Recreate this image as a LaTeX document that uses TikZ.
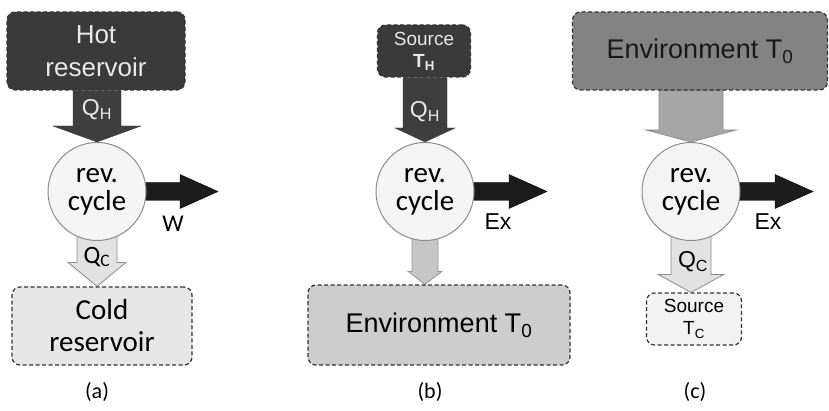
\documentclass[tikz,border=0pt]{standalone}
\usepackage{fontspec}
\setmainfont{Liberation Sans}
\newfontfamily\calibri{Carlito}
\usepackage{tikz}
\usetikzlibrary{positioning,calc,backgrounds}

\definecolor{hotgray}{HTML}{3A3A3A}
\definecolor{flowgray}{HTML}{3E3E3E}
\definecolor{workgray}{HTML}{1C1C1C}
\definecolor{ringgray}{HTML}{8C8C8C}
\definecolor{cyclefill}{HTML}{F4F4F4}
\definecolor{coldgray}{HTML}{E6E6E6}
\definecolor{paleflow}{HTML}{E2E2E2}
\definecolor{envlight}{HTML}{CDCDCD}
\definecolor{envflow}{HTML}{C6C6C6}
\definecolor{envdark}{HTML}{838383}
\definecolor{envdarkflow}{HTML}{A6A6A6}
\definecolor{sourcepale}{HTML}{F2F2F2}
\definecolor{lighttext}{HTML}{E8E8E8}

\newcommand{\flowdown}[6]{%
  \draw[#1] let \p1=(#2), \p2=(#3) in
    (\x1-#4,\y1) -- (\x1-#4,\y2+#6) -- (\x1-#5,\y2+#6) -- (\x1,\y2)
    -- (\x1+#5,\y2+#6) -- (\x1+#4,\y2+#6) -- (\x1+#4,\y1) -- cycle;}
\newcommand{\flowright}[6]{%
  \draw[#1] let \p1=(#2), \p2=(#3) in
    (\x1,\y1-#4) -- (\x2-#6,\y1-#4) -- (\x2-#6,\y1-#5) -- (\x2,\y1)
    -- (\x2-#6,\y1+#5) -- (\x2-#6,\y1+#4) -- (\x1,\y1+#4) -- cycle;}

\tikzset{
  reservoir/.style={draw=black!80, line width=1.2pt, dash pattern=on 4pt off 2.5pt,
    rounded corners=8pt, align=center, inner sep=0pt},
  revcycle/.style={circle, draw=ringgray, line width=1pt, fill=cyclefill, minimum size=98pt,
    inner sep=0pt, align=center, font=\calibri\fontsize{29}{28}\selectfont},
  bigtext/.style={font=\fontsize{26}{33}\selectfont},
  smalltext/.style={font=\fontsize{19}{22}\selectfont},
  flowtext/.style={font=\fontsize{23}{26}\selectfont},
  caption/.style={font=\calibri\fontsize{22}{26}\selectfont},
  workflow/.style={fill=workgray},
}

\begin{document}
\begin{tikzpicture}[x=1pt,y=1pt]
    \useasboundingbox (0,0) rectangle (829,410);

    \node [reservoir, fill=hotgray, minimum width=178pt, minimum height=78pt, bigtext, text=lighttext] (hotA) at (96,359) {Hot\\reservoir};
    \node [revcycle] (cycA) at (97,218.5) {rev.\\cycle};
    \node [reservoir, fill=coldgray, minimum width=180pt, minimum height=78pt, font=\calibri\fontsize{29}{32}\selectfont] (coldA) at (102,84) {Cold\\reservoir};
    \coordinate (tipA) at (218,219);

    \node [reservoir, fill=hotgray, minimum width=93pt, minimum height=52pt, smalltext, text=lighttext] (srcB) at (424,359) {Source\\\textbf{T\textsubscript{H}}};
    \node [revcycle] (cycB) at (425,218.5) {rev.\\cycle};
    \node [reservoir, fill=envlight, minimum width=262pt, minimum height=80pt, font=\fontsize{27}{30}\selectfont] (envB) at (439,85) {Environment T\textsubscript{0}};
    \coordinate (tipB) at (547,219);

    \node [reservoir, fill=envdark, minimum width=255pt, minimum height=78pt, font=\fontsize{27}{30}\selectfont, text=black!90] (envC) at (700,359) {Environment T\textsubscript{0}};
    \node [revcycle] (cycC) at (691,218.5) {rev.\\cycle};
    \node [reservoir, fill=sourcepale, minimum width=95pt, minimum height=52pt, smalltext] (srcC) at (694,91) {Source\\T\textsubscript{C}};
    \coordinate (tipC) at (813,219);

    \begin{pgfonlayer}{background}
        \flowdown{fill=flowgray, draw=flowgray}{hotA.south -| cycA}{cycA.north}{24pt}{44pt}{16pt}
        \flowright{workflow}{cycA.center}{tipA}{9pt}{17pt}{38pt}
        \flowdown{fill=paleflow, draw=ringgray, line width=0.8pt}{cycA.center}{coldA.north -| cycA}{20pt}{29pt}{24pt}

        \flowdown{fill=flowgray, draw=flowgray}{srcB.south -| cycB}{cycB.north}{22pt}{30pt}{14pt}
        \flowright{workflow}{cycB.center}{tipB}{9pt}{17pt}{38pt}
        \flowdown{fill=envflow, draw=ringgray!90, line width=0.8pt}{cycB.center}{envB.north -| cycB}{13pt}{17pt}{13pt}

        \flowdown{fill=envdarkflow, draw=envdarkflow!85!black, line width=0.8pt}{envC.south -| cycC}{cycC.north}{32pt}{45pt}{12pt}
        \flowright{workflow}{cycC.center}{tipC}{9pt}{17pt}{38pt}
        \flowdown{fill=paleflow, draw=ringgray, line width=0.8pt}{cycC.center}{srcC.north -| cycC}{20pt}{33pt}{18pt}
    \end{pgfonlayer}

    \node [flowtext, text=lighttext] (qhA) at (97,300) {Q\textsubscript{H}};
    \node [font=\calibri\fontsize{25}{28}\selectfont] (qcA) at (97,153) {Q\textsubscript{C}};
    \node [font=\calibri\fontsize{24}{28}\selectfont] (wA) at (173,186) {W};
    \node [caption] (capA) at (97,18) {(a)};

    \node [flowtext, text=lighttext] (qhB) at (425,298) {Q\textsubscript{H}};
    \node [flowtext] (exB) at (498,188) {Ex};
    \node [caption] (capB) at (430,18) {(b)};

    \node [flowtext] (qcC) at (693,148) {Q\textsubscript{C}};
    \node [flowtext] (exC) at (768,188) {Ex};
    \node [caption] (capC) at (695,18) {(c)};
\end{tikzpicture}
\end{document}
